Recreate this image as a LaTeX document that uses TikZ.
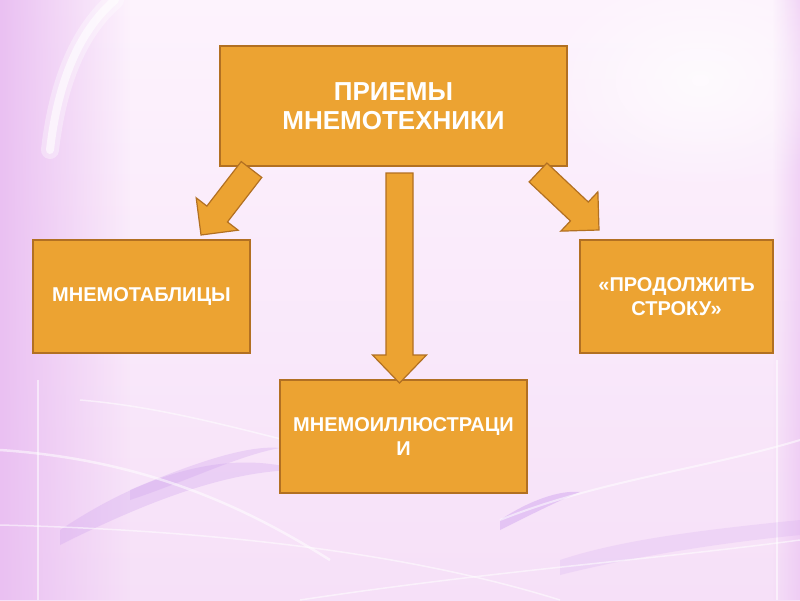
\documentclass[tikz,border=0pt]{standalone}
\usepackage{fontspec}
\setmainfont{Liberation Sans}
\usetikzlibrary{calc,fadings}
\definecolor{boxfill}{RGB}{236,163,50}
\definecolor{boxline}{RGB}{178,112,34}
\definecolor{bgtop}{RGB}{253,243,253}
\definecolor{bgbot}{RGB}{246,224,248}
\definecolor{bgleft}{RGB}{234,192,242}
\definecolor{streak}{RGB}{205,160,238}
\tikzfading[name=fadeR, left color=transparent!0, right color=transparent!100]
\tikzfading[name=fadeL, left color=transparent!100, right color=transparent!0]
\tikzfading[name=fadeC, inner color=transparent!0, outer color=transparent!100]
\tikzset{
  box/.style={draw=boxline, fill=boxfill, line width=1.4pt, text=white,
    font=\bfseries, align=center, inner sep=2pt},
  arrowbody/.style={draw=boxline, fill=boxfill, line width=1.2pt, line join=miter},
  swoosh/.style={white, opacity=0.55}
}
% #1 tail, #2 tip, #3 shaft half width, #4 head half width, #5 head length
\newcommand{\blockarrow}[5]{%
  \coordinate (ba-c) at ($(#2)!#5!(#1)$);
  \draw[arrowbody]
    ($(#1)!#3!90:(#2)$) -- ($(ba-c)!#3!90:(#2)$) -- ($(ba-c)!#4!90:(#2)$)
    -- (#2) -- ($(ba-c)!#4!-90:(#2)$) -- ($(ba-c)!#3!-90:(#2)$)
    -- ($(#1)!#3!-90:(#2)$) -- cycle;}
\begin{document}
\begin{tikzpicture}[x=1pt,y=-1pt]
\useasboundingbox (0,0) rectangle (800,600);
% background
\shade[top color=bgtop, bottom color=bgbot] (0,0) rectangle (800,600);
\fill[bgleft, path fading=fadeR] (0,0) rectangle (130,600);
\fill[bgleft, path fading=fadeL, opacity=0.6] (772,0) rectangle (800,600);
\fill[white, path fading=fadeC, opacity=0.7] (700,80) ellipse (160pt and 110pt);
% soft white arc top-left
\draw[white, line width=18pt, opacity=0.35, line cap=round] (50,150) .. controls (58,80) and (80,30) .. (115,0);
\draw[white, line width=8pt, opacity=0.6, line cap=round] (50,150) .. controls (58,80) and (80,30) .. (115,0);
\draw[swoosh, line width=2pt] (38,380) -- (38,600);
\draw[swoosh, line width=2pt] (777,360) -- (777,600);
% purple streaks
\fill[streak, opacity=0.3] (60,530) .. controls (150,470) and (230,450) .. (300,470)
   .. controls (230,470) and (150,500) .. (60,545) -- cycle;
\fill[streak, opacity=0.3] (130,490) .. controls (200,460) and (250,445) .. (280,448)
   .. controls (240,455) and (190,480) .. (130,500) -- cycle;
\fill[streak, opacity=0.45] (500,520) .. controls (530,500) and (560,490) .. (580,492)
   .. controls (560,500) and (530,515) .. (500,530) -- cycle;
\fill[streak, opacity=0.2] (560,560) .. controls (620,540) and (700,530) .. (800,520)
   -- (800,535) .. controls (700,545) and (620,560) .. (560,575) -- cycle;
\draw[swoosh, line width=2.5pt] (0,450) .. controls (150,460) and (250,510) .. (330,560);
\draw[swoosh, line width=1.5pt] (0,525) .. controls (200,530) and (400,550) .. (560,600);
\draw[swoosh, line width=1.5pt] (80,400) .. controls (200,410) and (300,450) .. (500,490);
\draw[swoosh, line width=2pt] (500,520) .. controls (600,480) and (700,470) .. (800,440);
\draw[swoosh, line width=1.5pt] (300,600) .. controls (500,570) and (650,560) .. (800,540);
% boxes
\node[box, minimum width=347pt, minimum height=120pt, font=\bfseries\fontsize{26}{29}\selectfont]
  (top) at (393.5,106) {ПРИЕМЫ\\МНЕМОТЕХНИКИ};
\node[box, minimum width=217pt, minimum height=113pt, font=\bfseries\fontsize{20}{24}\selectfont]
  (left) at (141.5,296.5) {МНЕМОТАБЛИЦЫ};
\node[box, minimum width=193pt, minimum height=113pt, font=\bfseries\fontsize{20}{24}\selectfont]
  (right) at (676.5,296.5) {«ПРОДОЛЖИТЬ\\СТРОКУ»};
\node[box, minimum width=247pt, minimum height=113pt, font=\bfseries\fontsize{20}{24}\selectfont]
  (bottom) at (403.5,436.5) {МНЕМОИЛЛЮСТРАЦИ\\И};
% arrows
\coordinate (la-t) at (251.5,169.5);
\coordinate (la-h) at (201,235);
\coordinate (ra-t) at (538,172.5);
\coordinate (ra-h) at (599,230);
\coordinate (ma-t) at (399.5,173);
\coordinate (ma-h) at (399.5,383);
\blockarrow{la-t}{la-h}{13pt}{26.5pt}{26.5pt}
\blockarrow{ra-t}{ra-h}{13pt}{27pt}{27pt}
\blockarrow{ma-t}{ma-h}{13.5pt}{27pt}{28pt}
\end{tikzpicture}
\end{document}
